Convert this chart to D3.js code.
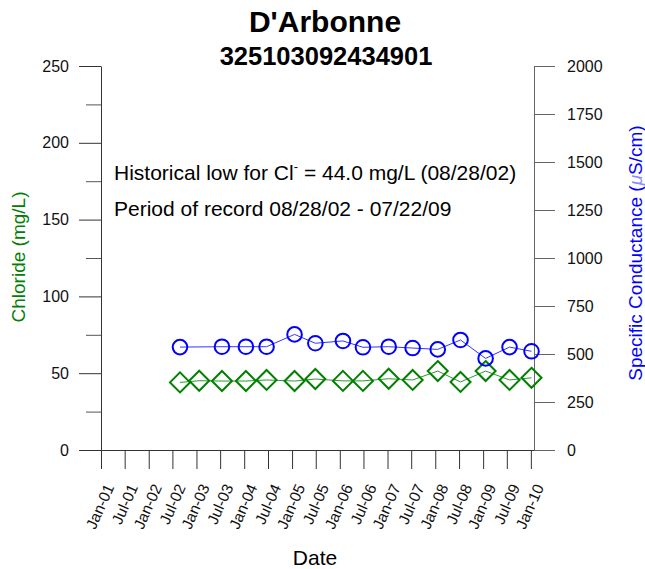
<!DOCTYPE html>
<meta charset="utf-8">
<style>
body { margin: 0; background: #fff; }
* { font-family: Arial, "Liberation Sans", Helvetica, sans-serif; }
.tick text { font-size: 16px; fill: #111; }
</style>
<body>
<script src="https://cdn.jsdelivr.net/npm/d3@7"></script>
<script>

// sample dates and values
var chlorideDates = ["2002-08-28", "2003-01-22", "2003-07-15", "2004-01-14", "2004-06-20",
  "2005-01-20", "2005-06-28", "2006-01-25", "2006-06-27", "2007-01-10", "2007-07-12",
  "2008-01-20", "2008-07-12", "2009-01-20", "2009-07-22", "2010-01-06"];
var chloride = [44.0, 45.1, 44.9, 44.9, 45.6, 44.9, 46.2, 45.0, 45.0, 46.4, 45.6,
  51.4, 44.3, 51.4, 45.6, 47.0];

var condDates = ["2002-08-28", "2003-07-15", "2004-01-14", "2004-06-20",
  "2005-01-20", "2005-06-28", "2006-01-25", "2006-06-27", "2007-01-10", "2007-07-12",
  "2008-01-20", "2008-07-12", "2009-01-20", "2009-07-22", "2010-01-06"];
var conductance = [536, 538, 538, 538, 602, 556, 568, 535, 538, 531, 524, 573, 477, 536, 514];

var xTickLabels = ["Jan-01", "Jul-01", "Jan-02", "Jul-02", "Jan-03", "Jul-03", "Jan-04", "Jul-04",
  "Jan-05", "Jul-05", "Jan-06", "Jul-06", "Jan-07", "Jul-07", "Jan-08", "Jul-08",
  "Jan-09", "Jul-09", "Jan-10"];
var leftTicks = [0, 50, 100, 150, 200, 250];
var leftMinor = [25, 75, 125, 175, 225];
var rightTicks = [0, 250, 500, 750, 1000, 1250, 1500, 1750, 2000];

var parse = d3.timeParse("%Y-%m-%d");

var W = 645, H = 569;
var m = {left: 101, right: 534, top: 66, bottom: 450};

var svg = d3.select("body").append("svg")
    .attr("width", W)
    .attr("height", H);

var x = d3.scaleTime()
    .domain([new Date(2001, 0, 1), new Date(2010, 0, 25)])
    .range([m.left, m.right]);
var yL = d3.scaleLinear().domain([0, 250]).range([m.bottom, m.top]);
var yR = d3.scaleLinear().domain([0, 2000]).range([m.bottom, m.top]);

// x axis, one tick every six months
var xTicks = d3.timeMonth.every(6).range(new Date(2001, 0, 1), new Date(2010, 0, 2));
var xAxis = svg.append("g")
    .attr("transform", "translate(0," + m.bottom + ")")
    .call(d3.axisBottom(x).tickValues(xTicks).tickSize(19).tickSizeOuter(0)
      .tickFormat(function(d, i) { return xTickLabels[i]; }));
xAxis.select(".domain").attr("stroke", "#333");
xAxis.selectAll(".tick line").attr("stroke", "#333");
xAxis.selectAll(".tick text")
    .attr("text-anchor", "end")
    .attr("y", 0).attr("dy", 0)
    .attr("transform", "translate(13,37) rotate(-66)")
    .style("font-size", "15.5px");

// left axis with minor ticks
var la = svg.append("g")
    .attr("transform", "translate(" + m.left + ",0)")
    .call(d3.axisLeft(yL).tickValues(leftTicks).tickSize(22).tickSizeOuter(0).tickPadding(10));
la.select(".domain").attr("stroke", "#333");
la.selectAll(".tick line").attr("stroke", "#333");
svg.append("g")
    .attr("transform", "translate(" + m.left + ",0)")
    .call(d3.axisLeft(yL).tickValues(leftMinor).tickSize(15).tickFormat(""))
    .call(function(g) { g.select(".domain").remove(); g.selectAll("line").attr("stroke", "#555"); });

// right axis
var ra = svg.append("g")
    .attr("transform", "translate(" + m.right + ",0)")
    .call(d3.axisRight(yR).tickValues(rightTicks).tickSize(21).tickSizeOuter(0).tickPadding(12)
      .tickFormat(d3.format("d")));
ra.select(".domain").attr("stroke", "#666");
ra.selectAll(".tick line").attr("stroke", "#666");

// lines
var condLine = d3.line()
    .x(function(d) { return x(d.date); })
    .y(function(d) { return yR(d.v); });
var clLine = d3.line()
    .x(function(d) { return x(d.date); })
    .y(function(d) { return yL(d.v); });

var condData = condDates.map(function(d, i) { return {date: parse(d), v: conductance[i]}; });
var clData = chlorideDates.map(function(d, i) { return {date: parse(d), v: chloride[i]}; });

svg.append("path").datum(condData)
    .attr("d", condLine)
    .attr("fill", "none")
    .attr("stroke", "#3333ff")
    .attr("stroke-width", 1);
svg.append("path").datum(clData)
    .attr("d", clLine)
    .attr("fill", "none")
    .attr("stroke", "#2a9a2a")
    .attr("stroke-width", 1);

svg.selectAll(".cl").data(clData).enter().append("path")
    .attr("class", "cl")
    .attr("transform", function(d) { return "translate(" + x(d.date) + "," + yL(d.v) + ")"; })
    .attr("d", "M0,-10L10,0L0,10L-10,0Z")
    .attr("fill", "none")
    .attr("stroke", "#008000")
    .attr("stroke-width", 2);

svg.selectAll(".sc").data(condData).enter().append("circle")
    .attr("class", "sc")
    .attr("cx", function(d) { return x(d.date); })
    .attr("cy", function(d) { return yR(d.v); })
    .attr("r", 7.3)
    .attr("fill", "none")
    .attr("stroke", "#0000ff")
    .attr("stroke-width", 2);

// titles
svg.append("text")
    .attr("x", 325).attr("y", 32)
    .attr("text-anchor", "middle")
    .style("font-size", "30px").style("font-weight", "bold")
    .text("D'Arbonne");
svg.append("text")
    .attr("x", 326).attr("y", 65)
    .attr("text-anchor", "middle")
    .style("font-size", "25.5px").style("font-weight", "bold")
    .text("325103092434901");

// annotations
var note = svg.append("text")
    .attr("x", 114).attr("y", 180)
    .style("font-size", "21px");
note.append("tspan").text("Historical low for Cl");
note.append("tspan").attr("dy", -9).style("font-size", "13px").text("-");
note.append("tspan").attr("dy", 9).text(" = 44.0 mg/L (08/28/02)");
svg.append("text")
    .attr("x", 114).attr("y", 216)
    .style("font-size", "21px")
    .text("Period of record 08/28/02 - 07/22/09");

// axis titles
svg.append("text")
    .attr("transform", "translate(25,257) rotate(-90)")
    .attr("text-anchor", "middle")
    .attr("fill", "#008000")
    .style("font-size", "19px")
    .text("Chloride (mg/L)");
var rt = svg.append("text")
    .attr("transform", "translate(642,253) rotate(-90)")
    .attr("text-anchor", "middle")
    .attr("fill", "#0000ff")
    .style("font-size", "19px");
rt.append("tspan").text("Specific Conductance (");
rt.append("tspan").attr("fill", "#8a8aff").style("font-style", "italic").text("μ");
rt.append("tspan").text("S/cm)");

svg.append("text")
    .attr("x", 315).attr("y", 565)
    .attr("text-anchor", "middle")
    .style("font-size", "21px")
    .text("Date");

</script>
</body>
</html>
